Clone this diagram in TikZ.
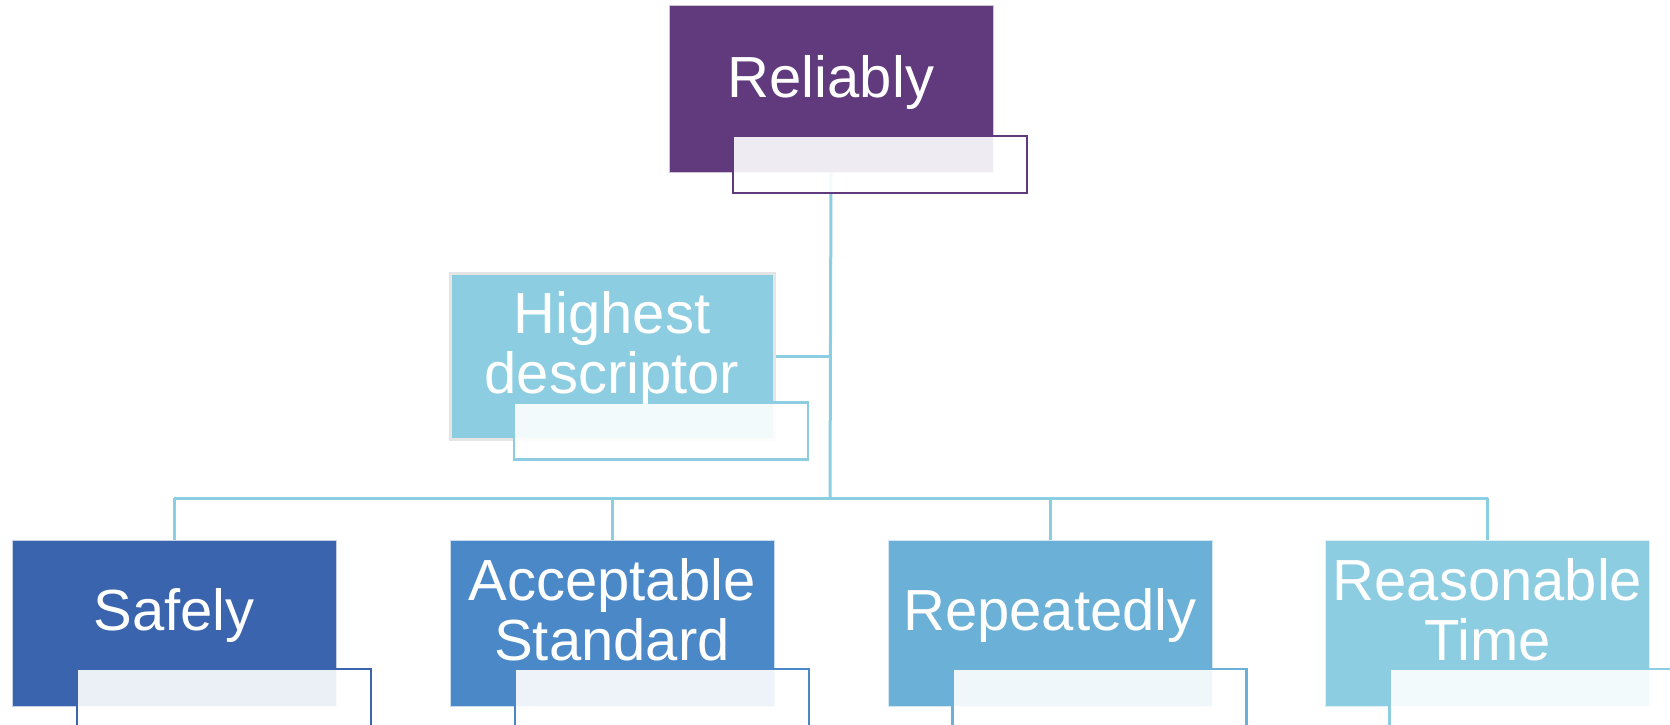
\documentclass[tikz,border=0pt]{standalone}
\usepackage{fontspec}
\setmainfont{Liberation Sans}
\definecolor{cpurple}{HTML}{613A7E}
\definecolor{cblue1}{HTML}{3A64AD}
\definecolor{cblue2}{HTML}{4A88C8}
\definecolor{cblue3}{HTML}{6AB0D7}
\definecolor{cblue4}{HTML}{8DCDE1}
\definecolor{cline}{HTML}{8BCEE2}
\tikzset{
  mainbox/.style={rectangle, inner sep=0pt, minimum width=324pt, minimum height=166pt, draw=white!70!#1, line width=1pt, fill=#1},
  subbox/.style={rectangle, inner sep=0pt, minimum width=294pt, minimum height=57pt, draw=#1, line width=2.5pt, fill=white, fill opacity=0.9},
  conn/.style={draw=cline, line width=3pt},
  lbl/.style={text=white, font=\fontsize{58}{60}\selectfont, align=center, inner sep=0pt},
}
\begin{document}
\begin{tikzpicture}[x=1pt,y=-1pt]
\useasboundingbox[fill=white] (0,0) rectangle (1670,725);
% coordinates
\coordinate (bar) at (830,498);
% main boxes
\node[mainbox=cpurple] (r) at (831,89) {};
\node[mainbox=cblue4, draw=black!10, line width=3pt] (h) at (612,356) {};
\node[mainbox=cblue1] (s) at (174,623) {};
\node[mainbox=cblue2] (a) at (612,623) {};
\node[mainbox=cblue3] (p) at (1050,623) {};
\node[mainbox=cblue4] (t) at (1487.5,623) {};
% connectors (behind sub boxes)
\draw[conn] (r.south) -- (bar);
\draw[conn] (h.east) -- (h.east -| bar);
\draw[conn] (s.north |- bar) -- (t.north |- bar);
\draw[conn] (s.north |- bar) -- (s.north);
\draw[conn] (a.north |- bar) -- (a.north);
\draw[conn] (p.north |- bar) -- (p.north);
\draw[conn] (t.north |- bar) -- (t.north);
% sub boxes
\node[subbox=cpurple] (rs) at (880,164.5) {};
\node[subbox=cblue4] (hs) at (661,431) {};
\node[subbox=cblue1] (ss) at (224,697.5) {};
\node[subbox=cblue2] (as) at (662,697.5) {};
\node[subbox=cblue3] (ps) at (1099.5,697.5) {};
\node[subbox=cblue4] (ts) at (1536.5,697.5) {};
% labels
\node[lbl, anchor=base] (rl) at (831,97) {Reliably};
\node[lbl, anchor=base] (hl) at (612,393) {Highest\\descriptor};
\node[lbl, anchor=base] (sl) at (174,630) {Safely};
\node[lbl, anchor=base] (al) at (612,660) {Acceptable\\Standard};
\node[lbl, anchor=base] (pl) at (1050,630) {Repeatedly};
\node[lbl, anchor=base] (tl) at (1487.5,660) {Reasonable\\Time};
\end{tikzpicture}
\end{document}
